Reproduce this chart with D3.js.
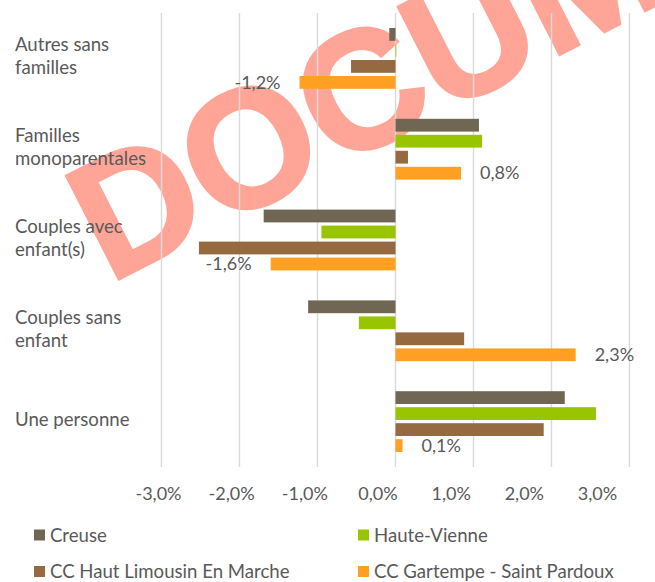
<!DOCTYPE html>
<html>
<head>
<meta charset="utf-8">
<script src="https://cdn.jsdelivr.net/npm/d3@7"></script>
<style>
  body { margin: 0; background: #fff; }
  text { font-family: Lato, "Noto Sans", sans-serif; fill: #595959; }
</style>
</head>
<body>
<div class="container"></div>
<script>
////////////////////////////////////////////////////////////////
// DATA
////////////////////////////////////////////////////////////////
var categories = ["Autres sans familles", "Familles monoparentales", "Couples avec enfant(s)", "Couples sans enfant", "Une personne"];
var series = ["Creuse", "Haute-Vienne", "CC Haut Limousin En Marche", "CC Gartempe - Saint Pardoux"];
var creuse = [-0.08, 1.07, -1.69, -1.12, 2.17];
var hauteVienne = [0.01, 1.11, -0.95, -0.47, 2.57];
var ccHautLimousin = [-0.57, 0.16, -2.52, 0.88, 1.90];
var ccGartempe = [-1.23, 0.84, -1.60, 2.31, 0.09];
var tickValues = [-3, -2, -1, 0, 1, 2, 3];
var colors = ["#706654", "#98c500", "#966a41", "#ffa022"];

var values = [creuse, hauteVienne, ccHautLimousin, ccGartempe];
var labelled = [false, false, false, true]; // only the last serie has data labels

////////////////////////////////////////////////////////////////
// STAGE
////////////////////////////////////////////////////////////////
var W = 655, H = 582;
var plotTop = 13, plotBottom = 467;
var fontSize = "18px";
var wordSize = "18.6px";

var svg = d3.select(".container")
	.append("svg")
	.attr("width", W)
	.attr("height", H);

svg.append("rect").attr("width", W).attr("height", H).attr("fill", "#fff");

var fr = d3.formatLocale({decimal: ",", thousands: " ", grouping: [3], currency: ["", " €"], minus: "-"});
var pct = fr.format(".1f");

var x = d3.scaleLinear().domain([-3, 3]).range([161.5, 629.5]);
// the tick labels of the reference sit on a slightly narrower spacing
var xLab = d3.scaleLinear().domain([-3, 3]).range([158, 597]);

var y0 = d3.scaleBand().domain(categories).range([plotTop, plotBottom]).padding(0);
var bw = y0.bandwidth();
var y1 = d3.scaleBand().domain(series)
	.range([(bw - 64) / 2, (bw + 64) / 2])
	.paddingInner(0.2)
	.paddingOuter(0.1);

////////////////////////////////////////////////////////////////
// WATERMARK
////////////////////////////////////////////////////////////////
svg.append("text")
	.attr("transform", "translate(109,284) rotate(-27)")
	.style("font-family", "'Liberation Sans', Arial, sans-serif")
	.style("font-weight", "bold")
	.style("font-size", "168px")
	.style("fill", "#ffa597")
	.style("stroke", "#ffa597")
	.style("stroke-width", 3)
	.text("DOCUMENT");

////////////////////////////////////////////////////////////////
// GRIDLINES
////////////////////////////////////////////////////////////////
svg.append("g")
	.selectAll("line")
	.data(tickValues)
	.join("line")
	.attr("x1", d => x(d)).attr("x2", d => x(d))
	.attr("y1", plotTop).attr("y2", plotBottom)
	.attr("stroke", "#d9d9d9")
	.attr("stroke-width", 1.4);

////////////////////////////////////////////////////////////////
// BARS
////////////////////////////////////////////////////////////////
var groups = svg.append("g")
	.selectAll("g")
	.data(categories)
	.join("g")
	.attr("transform", d => "translate(0," + y0(d) + ")");

groups.each(function(cat, ci) {
	var g = d3.select(this);
	series.forEach(function(s, si) {
		var v = values[si][ci];
		g.append("rect")
			.attr("x", x(Math.min(0, v)))
			.attr("y", y1(s))
			.attr("width", Math.abs(x(v) - x(0)))
			.attr("height", y1.bandwidth())
			.attr("fill", colors[si]);
		if (labelled[si]) {
			g.append("text")
				.attr("x", v < 0 ? x(v) - 19 : x(v) + 19)
				.attr("y", y1(s) + y1.bandwidth() / 2)
				.attr("dy", "0.35em")
				.attr("text-anchor", v < 0 ? "end" : "start")
				.style("font-size", fontSize)
				.text(pct(v) + "%");
		}
	});
});

////////////////////////////////////////////////////////////////
// CATEGORY LABELS (wrapped)
////////////////////////////////////////////////////////////////
function wrap(textSel, width) {
	textSel.each(function() {
		var t = d3.select(this);
		var words = t.text().split(" ");
		t.text(null);
		var lines = [], line = [];
		var probe = t.append("tspan");
		words.forEach(function(w) {
			line.push(w);
			probe.text(line.join(" "));
			if (probe.node().getComputedTextLength() > width && line.length > 1) {
				line.pop();
				lines.push(line.join(" "));
				line = [w];
			}
		});
		lines.push(line.join(" "));
		probe.remove();
		var lh = 23;
		var yc = +t.attr("y");
		lines.forEach(function(l, i) {
			t.append("tspan")
				.attr("x", t.attr("x"))
				.attr("y", yc + (i - (lines.length - 1) / 2) * lh)
				.attr("dy", "0.35em")
				.text(l);
		});
	});
}

svg.append("g")
	.selectAll("text")
	.data(categories)
	.join("text")
	.attr("x", 15)
	.attr("y", d => y0(d) + bw / 2 - 2)
	.style("font-size", wordSize)
	.text(d => d)
	.call(wrap, 138);

////////////////////////////////////////////////////////////////
// X AXIS LABELS
////////////////////////////////////////////////////////////////
var axis = svg.append("g")
	.attr("transform", "translate(0," + 484 + ")")
	.call(d3.axisBottom(xLab).tickValues(tickValues).tickSize(0).tickPadding(0).tickFormat(d => pct(d) + "%"));
axis.select(".domain").remove();
axis.selectAll("text")
	.attr("dy", "0.35em")
	.attr("y", 10)
	.style("font-family", "Lato, 'Noto Sans', sans-serif")
	.style("font-size", fontSize)
	.style("fill", "#595959");

////////////////////////////////////////////////////////////////
// LEGEND
////////////////////////////////////////////////////////////////
var legX = [34, 358], legY = [535, 571.5];
var leg = svg.append("g")
	.selectAll("g")
	.data(series)
	.join("g")
	.attr("transform", (d, i) => "translate(" + legX[i % 2] + "," + legY[Math.floor(i / 2)] + ")");
leg.append("rect")
	.attr("x", 0).attr("y", -5.5)
	.attr("width", 11).attr("height", 11)
	.attr("fill", (d, i) => colors[i]);
leg.append("text")
	.attr("x", 16)
	.attr("dy", "0.35em")
	.style("font-size", wordSize)
	.text(d => d);
</script>
</body>
</html>
